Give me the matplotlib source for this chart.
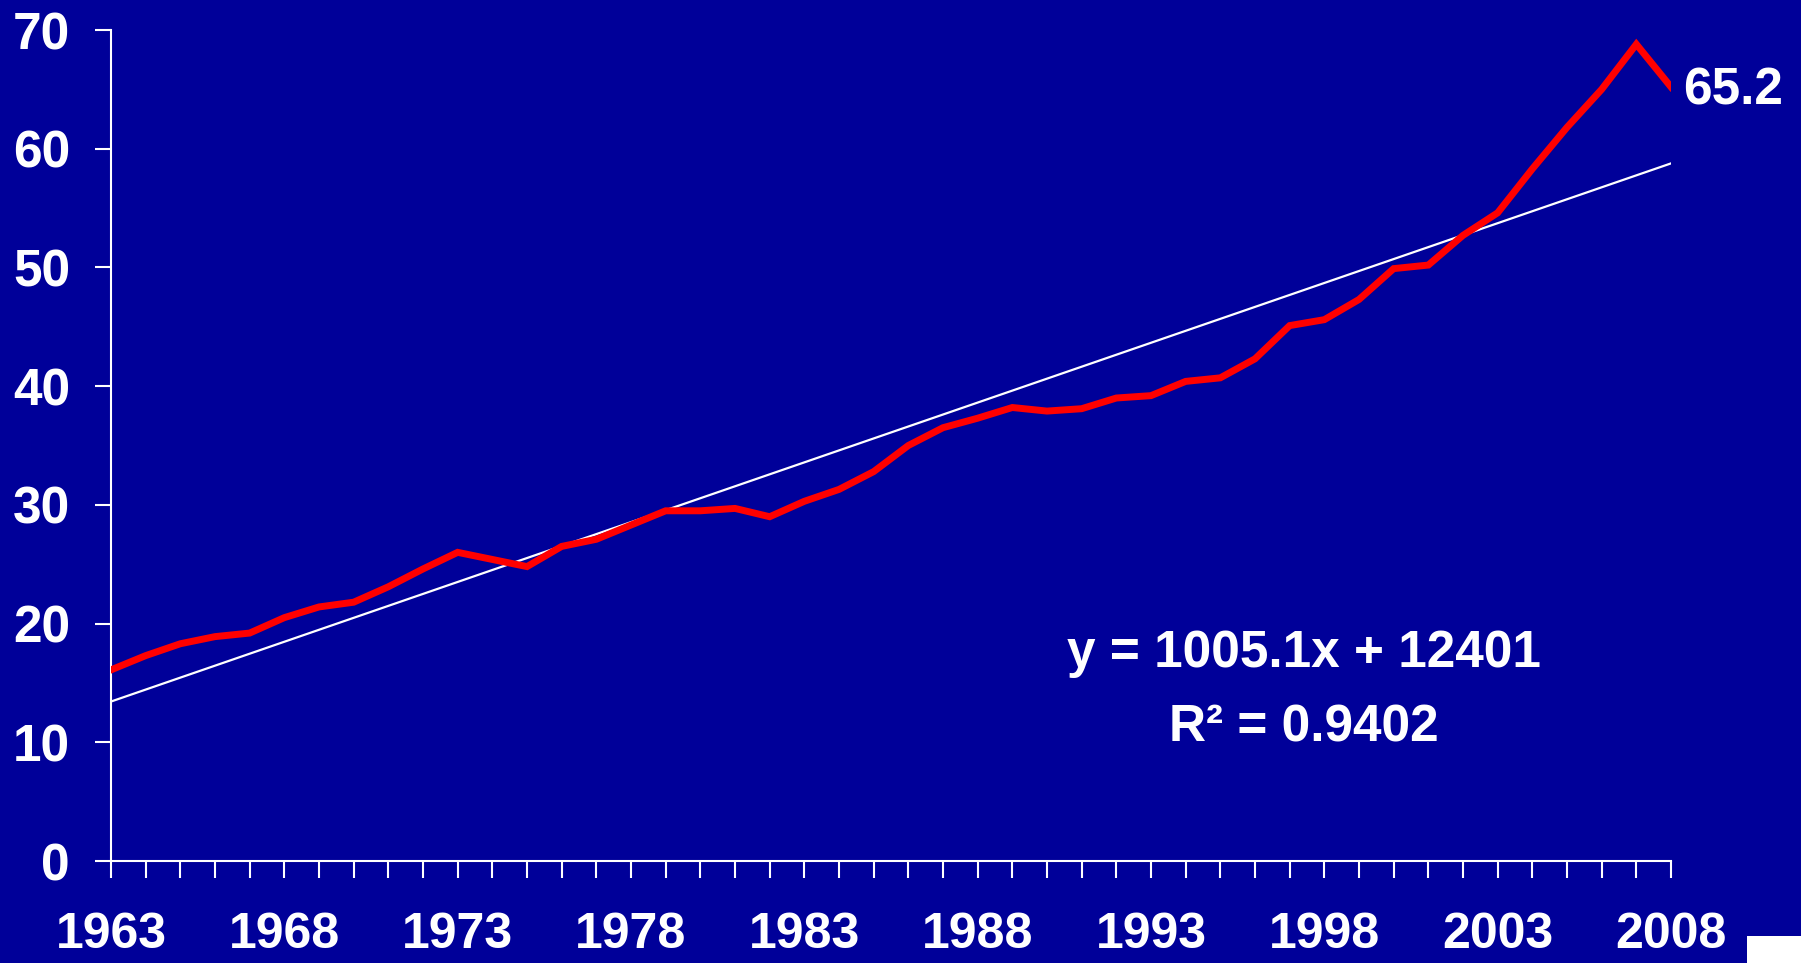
import numpy as np
import matplotlib
matplotlib.use("Agg")
import matplotlib.pyplot as plt
from matplotlib.patches import Rectangle

# --- данные ---
YEARS = list(range(1963, 2009))
VALUES = [16.1, 17.3, 18.3, 18.9, 19.2, 20.5, 21.4, 21.8, 23.1, 24.6,
          26.0, 25.4, 24.8, 26.5, 27.1, 28.3, 29.5, 29.5, 29.7, 29.0,
          30.3, 31.3, 32.8, 35.0, 36.5, 37.3, 38.2, 37.9, 38.1, 39.0,
          39.2, 40.4, 40.7, 42.3, 45.1, 45.6, 47.3, 49.9, 50.2, 52.7,
          54.6, 58.3, 61.8, 65.0, 68.8, 65.2]
LABEL_YEARS = [1963, 1968, 1973, 1978, 1983, 1988, 1993, 1998, 2003, 2008]
Y_TICKS = [0, 10, 20, 30, 40, 50, 60, 70]
LAST_LABEL = "65.2"
EQ_TEXT = "y = 1005.1x + 12401"
R2_TEXT = "R\u00b2 = 0.9402"

BG = "#000099"
FONT = ["Liberation Sans", "DejaVu Sans"]

plt.rcParams["font.family"] = FONT
plt.rcParams["font.weight"] = "bold"

fig = plt.figure(figsize=(18.01, 9.63), dpi=100, facecolor=BG)
ax = fig.add_axes([111 / 1801, 1 - 861 / 963, (1671 - 111) / 1801, (861 - 30) / 963])
ax.set_facecolor(BG)

# линейный тренд (как в Excel)
t = np.arange(1, len(YEARS) + 1)
k, b = np.polyfit(t, VALUES, 1)
ax.plot(YEARS, k * t + b, color="white", linewidth=1.6, zorder=2)

# основная кривая
ax.plot(YEARS, VALUES, color="#ff0000", linewidth=5, solid_joinstyle="miter",
        zorder=3)

ax.annotate(LAST_LABEL, (YEARS[-1], VALUES[-1]), xytext=(9, -3),
            textcoords="offset points", color="white", fontsize=37,
            fontweight="bold", va="center", ha="left", annotation_clip=False)

ax.text(1997.4, 16.3, EQ_TEXT, color="white", fontsize=37, fontweight="bold",
        ha="center", va="baseline")
ax.text(1997.4, 10.05, R2_TEXT, color="white", fontsize=37, fontweight="bold",
        ha="center", va="baseline")

ax.set_xlim(YEARS[0], YEARS[-1])
ax.set_ylim(0, 70)

ax.set_xticks(YEARS)
ax.set_xticklabels([str(y) if y in LABEL_YEARS else "" for y in YEARS])
ax.set_yticks(Y_TICKS)

for side in ["top", "right"]:
    ax.spines[side].set_visible(False)
for side in ["left", "bottom"]:
    ax.spines[side].set_color("white")
    ax.spines[side].set_linewidth(1.5)

ax.tick_params(axis="x", direction="out", length=12, width=1.5, colors="white",
               labelsize=36, pad=25)
ax.tick_params(axis="y", direction="out", length=11.5, width=1.5, colors="white",
               labelsize=37, pad=18)
for lab in ax.get_xticklabels() + ax.get_yticklabels():
    lab.set_fontweight("bold")

# белый уголок внизу справа
fig.patches.append(Rectangle((1747 / 1801, 0), 54 / 1801, 27 / 963,
                             transform=fig.transFigure, facecolor="white",
                             edgecolor="none"))

fig.savefig("out.png", dpi=100, facecolor=BG)
